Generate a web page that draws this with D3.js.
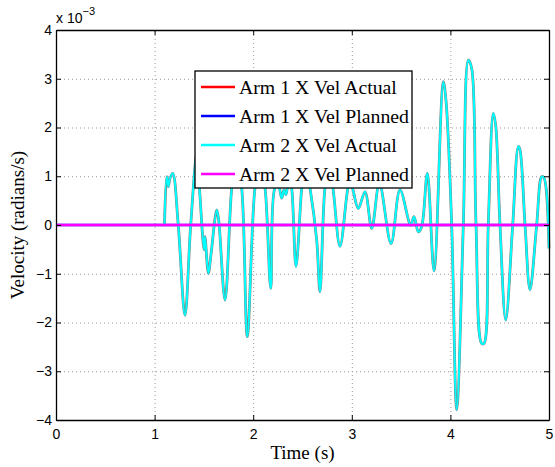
<!DOCTYPE html>
<html>
<head>
<meta charset="utf-8">
<script src="https://cdn.jsdelivr.net/npm/d3@7"></script>
<style>
  body { margin: 0; background: #fff; }
  svg { display: block; }
</style>
</head>
<body>
<svg id="chart" width="555" height="467"></svg>
<script>
// ---- data (velocity in units of 1e-3 rad/s) ----
const timeS = [1.10, 1.123, 1.139, 1.156, 1.184, 1.24, 1.308, 1.366, 1.43, 1.46, 1.501, 1.511, 1.545, 1.572, 1.63, 1.65, 1.714, 1.782, 1.826, 1.883, 1.94, 2.018, 2.07, 2.12, 2.178, 2.221, 2.255, 2.289, 2.312, 2.333, 2.363, 2.39, 2.434, 2.492, 2.525, 2.576, 2.644, 2.677, 2.728, 2.77, 2.809, 2.88, 2.961, 2.985, 3.012, 3.066, 3.134, 3.202, 3.28, 3.398, 3.489, 3.597, 3.631, 3.675, 3.709, 3.766, 3.834, 3.928, 3.955, 4.013, 4.064, 4.131, 4.182, 4.216, 4.26, 4.317, 4.341, 4.384, 4.435, 4.459, 4.503, 4.561, 4.632, 4.689, 4.705, 4.757, 4.807, 4.875, 4.926, 4.949, 5.0];
const arm2Actual = [0.0, 0.99, 0.79, 0.96, 1.06, 0.0, -1.85, 0.0, 1.5, 0.6, -0.51, -0.24, -0.99, -0.6, 0.31, 0.1, -1.54, 0.76, 1.4, 0.76, -2.29, 0.76, 1.3, 0.76, -1.3, 0.76, 0.8, 0.55, 0.72, 0.62, 1.0, 0.76, -0.85, 0.76, 1.3, 0.76, -0.31, -1.37, 0.76, 1.2, 0.76, -0.44, 0.76, 0.9, 0.72, 0.34, 0.68, -0.07, 0.85, -0.38, 0.72, 0.0, 0.17, -0.14, -0.03, 1.06, -0.94, 2.94, 2.56, 0.0, -3.79, 0.0, 3.38, 3.21, 0.0, -2.43, -2.43, 0.0, 2.29, 2.05, 0.0, -1.95, 0.0, 1.61, 1.55, 0.0, -1.33, 0.0, 0.99, 0.97, -0.48];
const arm1Actual = arm2Actual.slice();
const plannedTime = [0, 5];
const arm1Planned = [0, 0];
const arm2Planned = [0, 0];
const xTicks = [0, 1, 2, 3, 4, 5];
const yTicks = [-4, -3, -2, -1, 0, 1, 2, 3, 4];
const seriesNames = ["Arm 1 X Vel Actual", "Arm 1 X Vel Planned", "Arm 2 X Vel Actual", "Arm 2 X Vel Planned"];
const seriesColors = ["#ff0000", "#0000ff", "#00ffff", "#ff00ff"];

const svg = d3.select("#chart");
const mL = 56, mR = 549, mT = 30, mB = 420;
const x = d3.scaleLinear().domain([0, 5]).range([mL, mR]);
const y = d3.scaleLinear().domain([-4, 4]).range([mB, mT]);
const sans = "Liberation Sans, Arial, sans-serif";
const serif = "Liberation Serif, Times New Roman, serif";

// grid
const gridX = svg.append("g").attr("transform", `translate(0,${mB})`)
  .call(d3.axisBottom(x).tickValues(xTicks.slice(1, -1)).tickSize(-(mB - mT)).tickFormat(""));
const gridY = svg.append("g").attr("transform", `translate(${mL},0)`)
  .call(d3.axisLeft(y).tickValues(yTicks.slice(1, -1)).tickSize(-(mR - mL)).tickFormat(""));
[gridX, gridY].forEach(g => {
  g.select(".domain").remove();
  g.selectAll("line").attr("stroke", "#999").attr("stroke-width", 1).attr("stroke-dasharray", "1,3");
});

// data lines
const lineGen = d3.line().x(d => x(d[0])).y(d => y(d[1])).curve(d3.curveCatmullRom.alpha(0.5));
const actual1 = timeS.map((t, i) => [t, arm1Actual[i]]);
const actual2 = timeS.map((t, i) => [t, arm2Actual[i]]);
const plan1 = plannedTime.map((t, i) => [t, arm1Planned[i]]);
const plan2 = plannedTime.map((t, i) => [t, arm2Planned[i]]);
svg.append("path").datum(actual1).attr("d", lineGen).attr("fill", "none").attr("stroke", "#808080").attr("stroke-width", 2.8);
svg.append("path").datum(plan1).attr("d", lineGen).attr("fill", "none").attr("stroke", seriesColors[1]).attr("stroke-width", 2.5);
svg.append("path").datum(actual2).attr("d", lineGen).attr("fill", "none").attr("stroke", seriesColors[2]).attr("stroke-width", 2);
svg.append("path").datum(plan2).attr("d", lineGen).attr("fill", "none").attr("stroke", seriesColors[3]).attr("stroke-width", 2.5);

// axes (ticks inward)
function styleAxis(g) {
  g.select(".domain").attr("stroke", "#000").attr("stroke-width", 1.3);
  g.selectAll(".tick line").attr("stroke", "#000");
  g.selectAll("text").attr("font-family", sans).attr("font-size", 14).attr("fill", "#000");
}
const fmt = d3.format("d");
svg.append("g").attr("transform", `translate(0,${mB})`)
  .call(d3.axisBottom(x).tickValues(xTicks).tickSizeInner(-5).tickSizeOuter(0).tickPadding(9).tickFormat(fmt)).call(styleAxis);
svg.append("g").attr("transform", `translate(0,${mT})`)
  .call(d3.axisTop(x).tickValues(xTicks).tickSizeInner(-5).tickSizeOuter(0).tickFormat("")).call(styleAxis);
svg.append("g").attr("transform", `translate(${mL},0)`)
  .call(d3.axisLeft(y).tickValues(yTicks).tickSizeInner(-5).tickSizeOuter(0).tickPadding(4).tickFormat(fmt)).call(styleAxis);
svg.append("g").attr("transform", `translate(${mR},0)`)
  .call(d3.axisRight(y).tickValues(yTicks).tickSizeInner(-5).tickSizeOuter(0).tickFormat("")).call(styleAxis);

// exponent label
const ex = svg.append("text").attr("x", 56).attr("y", 23).attr("font-family", sans).attr("font-size", 14);
ex.append("tspan").text("x 10");
ex.append("tspan").attr("dy", -8).attr("font-size", 11).text("\u22123");

// axis labels
svg.append("text").attr("x", (mL + mR) / 2).attr("y", 459).attr("text-anchor", "middle")
  .attr("font-family", serif).attr("font-size", 19).text("Time (s)");
svg.append("text").attr("transform", `translate(24,${(mT + mB) / 2}) rotate(-90)`).attr("text-anchor", "middle")
  .attr("font-family", serif).attr("font-size", 19).text("Velocity (radians/s)");

// legend
const lg = svg.append("g");
lg.append("rect").attr("x", 195).attr("y", 71).attr("width", 217).attr("height", 117)
  .attr("fill", "#fff").attr("stroke", "#000").attr("stroke-width", 1.3);
seriesNames.forEach((name, i) => {
  const yy = 87 + i * 29;
  lg.append("line").attr("x1", 201).attr("x2", 235).attr("y1", yy).attr("y2", yy)
    .attr("stroke", seriesColors[i]).attr("stroke-width", 2.5);
  lg.append("text").attr("x", 239).attr("y", yy + 6.5).attr("font-family", serif).attr("font-size", 19.8).text(name);
});
</script>
</body>
</html>
